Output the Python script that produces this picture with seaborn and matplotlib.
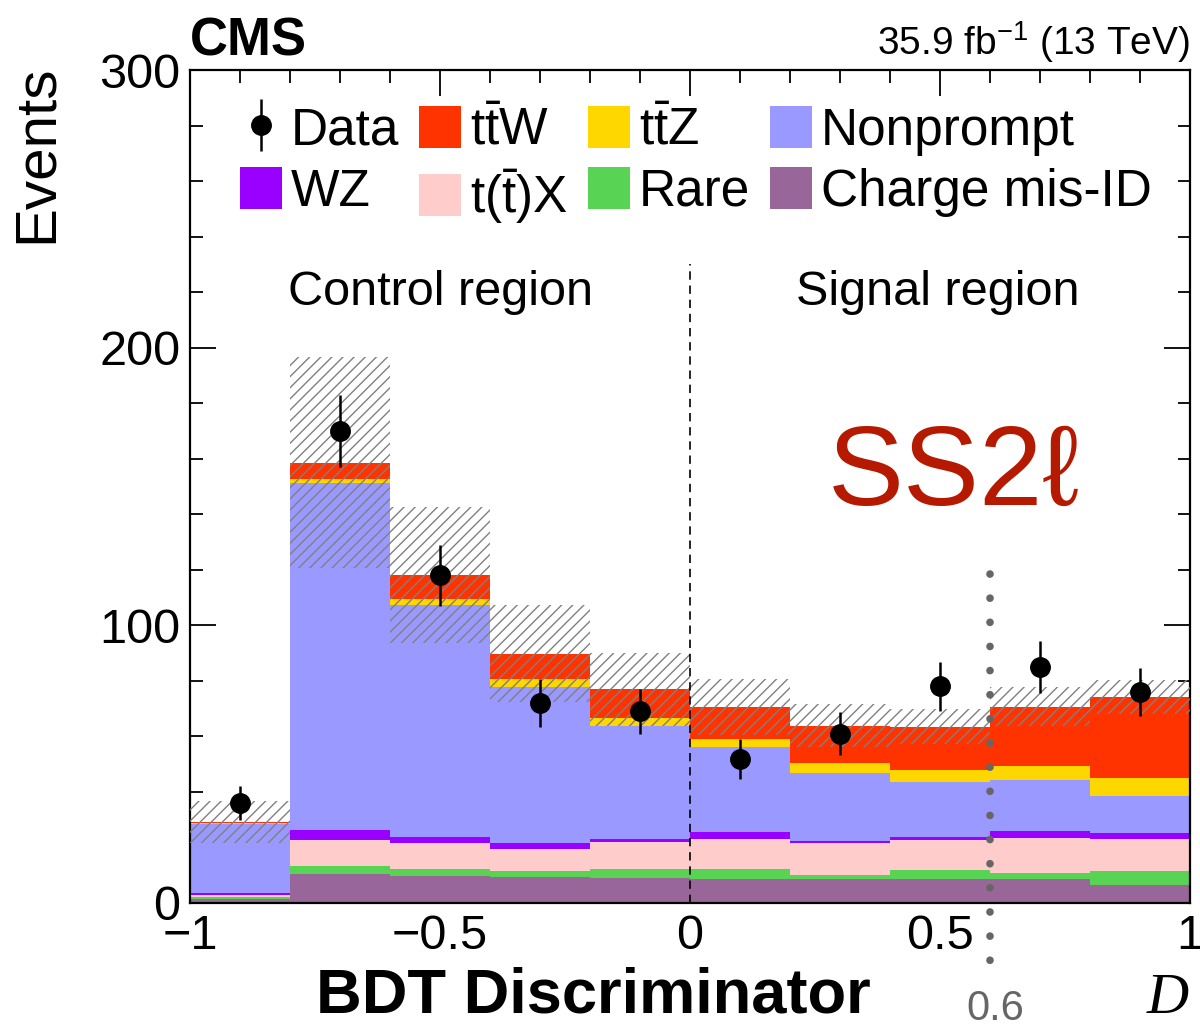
import numpy as np
import pandas as pd
import matplotlib
matplotlib.use("Agg")
import matplotlib.pyplot as plt
import seaborn as sns
from matplotlib.patches import Patch
from matplotlib.ticker import MultipleLocator, FuncFormatter

# ---------------- data ----------------
edges = [-1.0, -0.8, -0.6, -0.4, -0.2, 0.0, 0.2, 0.4, 0.6, 0.8, 1.0]
centers = [-0.9, -0.7, -0.5, -0.3, -0.1, 0.1, 0.3, 0.5, 0.7, 0.9]

ttw = [0.4, 5.9, 8.7, 9.1, 10.1, 11.5, 13.4, 15.6, 21.3, 29.2]
ttz = [0.2, 1.6, 2.2, 2.9, 2.9, 2.9, 3.7, 4.2, 5.1, 6.3]
nonprompt = [24.9, 124.8, 83.6, 56.1, 41.0, 30.7, 24.5, 19.8, 18.4, 13.4]
wz = [0.6, 3.6, 2.0, 2.1, 0.8, 2.4, 0.8, 1.2, 2.5, 2.2]
ttx = [1.0, 9.4, 9.5, 8.1, 10.0, 11.0, 11.4, 10.8, 12.6, 11.6]
rare = [0.7, 2.9, 2.5, 2.3, 3.0, 3.5, 1.5, 3.3, 2.2, 5.0]
charge_misid = [1.3, 10.4, 9.7, 9.2, 9.1, 8.6, 8.6, 8.6, 8.6, 6.5]

bkg_unc = [7.6, 38.0, 24.5, 17.5, 13.0, 10.0, 7.7, 6.4, 7.0, 6.0]

data = [36, 170, 118, 72, 69, 52, 61, 78, 85, 76]
data_err = [6.0, 13.0, 11.0, 8.5, 8.2, 7.2, 7.8, 8.9, 9.2, 8.7]

# order from top of stack to bottom
proc_names = ["ttW", "ttZ", "Nonprompt", "WZ", "ttX", "Rare", "Charge mis-ID"]
proc_values = [ttw, ttz, nonprompt, wz, ttx, rare, charge_misid]
proc_labels = [r"$\mathrm{t\bar{t}W}$", r"$\mathrm{t\bar{t}Z}$", "Nonprompt", "WZ",
               r"$\mathrm{t(\bar{t})X}$", "Rare", "Charge mis-ID"]
proc_colors = ["#ff3300", "#ffd700", "#9999ff", "#9900ff", "#ffcccc", "#59d354", "#996699"]

# ---------------- style ----------------
sns.set_style("ticks")
plt.rcParams["font.family"] = ["Liberation Sans", "DejaVu Sans"]
plt.rcParams["mathtext.fontset"] = "custom"
plt.rcParams["mathtext.rm"] = "Liberation Sans"
plt.rcParams["mathtext.it"] = "Liberation Sans:italic"
plt.rcParams["mathtext.bf"] = "Liberation Sans:bold"
plt.rcParams["hatch.linewidth"] = 1.0
plt.rcParams["axes.linewidth"] = 1.6
for k in ["text.color", "axes.labelcolor", "xtick.color", "ytick.color", "axes.edgecolor"]:
    plt.rcParams[k] = "black"

fig = plt.figure(figsize=(12, 10.31), dpi=100)
ax = fig.add_axes([190 / 1200, 1 - 903 / 1031, 1000 / 1200, 833 / 1031])

rows = []
for name, vals in zip(proc_names, proc_values):
    for c, v in zip(centers, vals):
        rows.append({"D": c, "w": v, "proc": name})
df = pd.DataFrame(rows)

sns.histplot(data=df, x="D", weights="w", hue="proc", hue_order=proc_names,
             multiple="stack", bins=edges, palette=dict(zip(proc_names, proc_colors)),
             element="bars", fill=True, alpha=1, linewidth=0, legend=False, ax=ax)

# total and uncertainty band
total = np.sum(np.array(proc_values), axis=0)
unc = np.array(bkg_unc)
ax.bar(centers, 2 * unc, bottom=total - unc, width=0.2, fill=False,
       hatch="///", edgecolor="#808080", linewidth=0, zorder=3)

# data
eb = ax.errorbar(centers, data, yerr=data_err, fmt="o", color="black", ms=14,
                 elinewidth=1.8, capsize=0, zorder=6)

# region separators
ax.plot([0, 0], [0, 230], color="black", lw=1.2, ls=(0, (5, 3.5)), zorder=4)
ax.plot([0.6, 0.6], [118.5, -21.5], color="#666666", lw=5.5, ls=(0, (0.01, 3.15)),
        dash_capstyle="round", clip_on=False, zorder=7)

# axes
ax.set_xlim(-1, 1)
ax.set_ylim(0, 300)
ax.xaxis.set_major_locator(MultipleLocator(0.5))
ax.xaxis.set_minor_locator(MultipleLocator(0.1))
ax.yaxis.set_major_locator(MultipleLocator(100))
ax.yaxis.set_minor_locator(MultipleLocator(20))
fmt = FuncFormatter(lambda v, p: f"{v:g}".replace("-", "\u2212"))
ax.xaxis.set_major_formatter(fmt)
ax.yaxis.set_major_formatter(fmt)
ax.tick_params(which="both", direction="in", top=True, right=True, width=1.3,
               labelsize=35, color="black")
ax.tick_params(which="major", length=19)
ax.tick_params(which="minor", length=9)
ax.tick_params(axis="x", pad=8)
ax.tick_params(axis="y", pad=7)
for s in ax.spines.values():
    s.set_visible(True)
    s.set_linewidth(1.6)

ax.set_xlabel("BDT Discriminator", fontsize=45.5, fontweight="bold", va="baseline")
ax.xaxis.set_label_coords(0.403, -0.131)
ax.set_ylabel("Events", fontsize=42, loc="top")
ax.yaxis.set_label_coords(-0.126, 1.007)

# texts
ax.text(-0.5, 220, "Control region", ha="center", va="center", fontsize=35)
ax.text(0.495, 220, "Signal region", ha="center", va="center", fontsize=35)
ax.text(0.527, 143.5, "SS2\u2113", ha="center", va="baseline", fontsize=82,
        color="#b51a00", family=["Liberation Sans", "DejaVu Sans"])
ax.text(0.61, -42.0, "0.6", ha="center", va="baseline", fontsize=30, color="#666666")
ax.text(0.956, -39.5, "D", ha="center", va="baseline", fontsize=42,
        family="Liberation Serif", style="italic")

fig.text(190 / 1200, 1 - 55 / 1031, "CMS", fontsize=38, fontweight="bold",
         ha="left", va="baseline")
fig.text(1190 / 1200, 1 - 55 / 1031, r"35.9 fb$^{-1}$ (13 TeV)", fontsize=28,
         ha="right", va="baseline")

# legend
handles = {n: Patch(facecolor=c, edgecolor="none", label=l)
           for n, c, l in zip(proc_names, proc_colors, proc_labels)}
order = [eb, handles["WZ"], handles["ttW"], handles["ttX"], handles["ttZ"],
         handles["Rare"], handles["Nonprompt"], handles["Charge mis-ID"]]
labels = ["Data", "WZ", proc_labels[0], proc_labels[4], proc_labels[1], "Rare",
          "Nonprompt", "Charge mis-ID"]
ax.legend(order, labels, ncol=4, loc="upper left", bbox_to_anchor=(0.05, 0.957),
          frameon=False, fontsize=37, handlelength=0.82, handleheight=0.88,
          handletextpad=0.16, columnspacing=0.40, labelspacing=0.22,
          borderpad=0, borderaxespad=0)

fig.savefig("out.png", dpi=100)
